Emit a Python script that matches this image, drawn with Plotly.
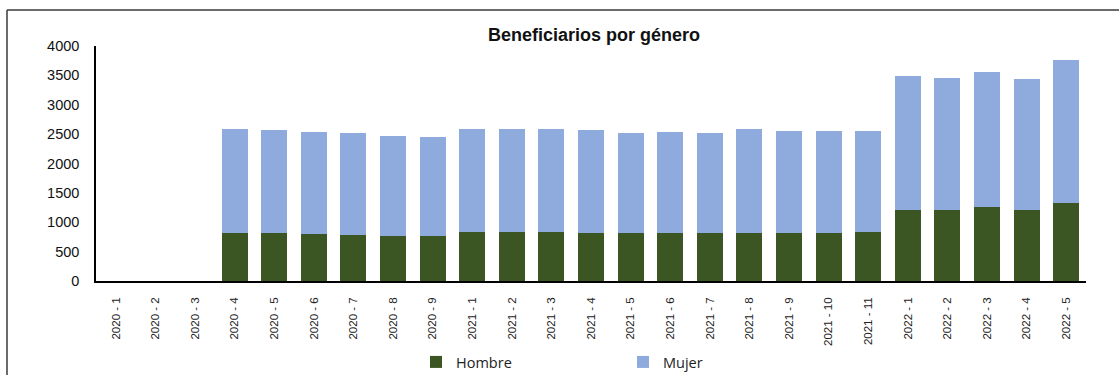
import plotly.graph_objects as go

periodos = [
    "2020 - 1", "2020 - 2", "2020 - 3", "2020 - 4", "2020 - 5", "2020 - 6",
    "2020 - 7", "2020 - 8", "2020 - 9",
    "2021 - 1", "2021 - 2", "2021 - 3", "2021 - 4", "2021 - 5", "2021 - 6",
    "2021 - 7", "2021 - 8", "2021 - 9", "2021 - 10", "2021 - 11",
    "2022 - 1", "2022 - 2", "2022 - 3", "2022 - 4", "2022 - 5",
]

hombre = [0, 0, 0, 825, 815, 800, 780, 770, 760,
          828, 828, 828, 823, 823, 823, 818, 823, 823, 823, 840,
          1215, 1215, 1260, 1215, 1322]

total = [0, 0, 0, 2585, 2570, 2530, 2515, 2468, 2456,
         2593, 2593, 2593, 2576, 2520, 2531, 2519, 2582, 2559, 2548, 2559,
         3484, 3455, 3552, 3444, 3756]

mujer = [t - h for t, h in zip(total, hombre)]

y_ticks = [0, 500, 1000, 1500, 2000, 2500, 3000, 3500, 4000]

W, H = 1119, 375
L, R, T, B = 96, 33, 46, 94
pw, ph = W - L - R, H - T - B


def px_x(px):
    return (px - L) / pw


def px_y(py):
    return (H - B - py) / ph


fig = go.Figure()
fig.add_trace(go.Bar(x=periodos, y=hombre, name="Hombre",
                     marker=dict(color="#3B5623", line=dict(width=0))))
fig.add_trace(go.Bar(x=periodos, y=mujer, name="Mujer",
                     marker=dict(color="#8FAADC", line=dict(width=0))))

fig.update_layout(
    width=W, height=H,
    margin=dict(l=L, r=R, t=T, b=B, pad=0, autoexpand=False),
    barmode="stack",
    bargap=0.34,
    plot_bgcolor="white",
    paper_bgcolor="white",
    font=dict(family="Liberation Sans, Arial, sans-serif", color="#111111"),
    title=dict(text="<b>Beneficiarios por género</b>",
               x=px_x(594), xref="paper", xanchor="center",
               y=1 - 35 / H, yref="container", yanchor="middle",
               font=dict(size=18, color="#111111")),
    showlegend=True,
    legend=dict(orientation="h", x=px_x(416), xanchor="left",
                y=px_y(362), yanchor="middle",
                font=dict(family="Open Sans, sans-serif", size=14.5, color="#222222"),
                itemwidth=30, entrywidth=162, entrywidthmode="pixels",
                traceorder="normal", bgcolor="rgba(0,0,0,0)"),
    xaxis=dict(showline=True, linecolor="black", linewidth=1.5,
               tickangle=-90, tickfont=dict(size=11.5, color="#222222"),
               ticks="", showgrid=False, ticklabelstandoff=10,
               automargin=False),
    yaxis=dict(range=[0, 4000], tickvals=y_ticks, showline=True,
               linecolor="black", linewidth=1.5, showgrid=False, zeroline=False,
               ticks="", tickfont=dict(size=14.5, color="#111111"),
               ticklabelstandoff=12, automargin=False),
)

# Frame around the chart area (top and left edges)
fig.add_shape(type="line", xref="paper", yref="paper",
              x0=px_x(7), x1=px_x(1125), y0=px_y(10), y1=px_y(10),
              line=dict(color="#3a3a3a", width=1.5))
fig.add_shape(type="line", xref="paper", yref="paper",
              x0=px_x(7), x1=px_x(7), y0=px_y(10), y1=px_y(380),
              line=dict(color="#3a3a3a", width=1.5))

fig.write_html("out.html")
